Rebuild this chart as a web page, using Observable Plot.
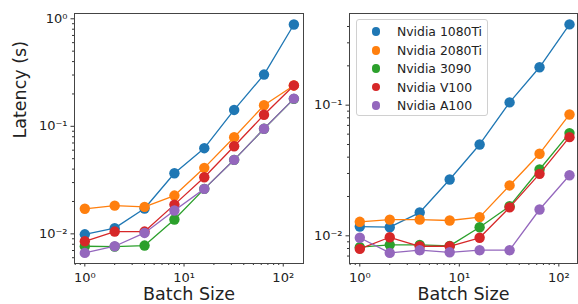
<!DOCTYPE html>
<html>
<head>
<meta charset="utf-8">
<script src="https://cdn.jsdelivr.net/npm/d3@7"></script>
<script src="https://cdn.jsdelivr.net/npm/@observablehq/plot@0.6"></script>
<style>
  html, body { margin: 0; padding: 0; background: #fff; }
  #wrap { position: relative; width: 578px; height: 304px; overflow: hidden; font-family: "DejaVu Sans", sans-serif; }
  #left, #right { position: absolute; top: 0; }
  #left { left: 0; }
  #right { left: 305px; }
  #legend { position: absolute; left: 356px; top: 19px; width: 132px; height: 97px;
    border: 1px solid #d0d0d0; border-radius: 3px; background: rgba(255,255,255,0.85); box-sizing: border-box; }
  .row { position: absolute; left: 0; height: 16px; display: flex; align-items: center; font-size: 12.4px; color: #222; white-space: nowrap; font-family: "DejaVu Sans", sans-serif; }
  .sw { width: 8.5px; height: 8.5px; border-radius: 50%; margin-left: 14.5px; margin-right: 17px; }
</style>
</head>
<body>
<div id="wrap">
  <div id="left"></div>
  <div id="right"></div>
  <div id="legend"></div>
</div>
<script>
const batchSizes = [1, 2, 4, 8, 16, 32, 64, 128];
const gpuNames = ["Nvidia 1080Ti", "Nvidia 2080Ti", "Nvidia 3090", "Nvidia V100", "Nvidia A100"];
const gpuColors = ["#1f77b4", "#ff7f0e", "#2ca02c", "#d62728", "#9467bd"];

// Left panel latency (s)
const left1080Ti = [0.0099, 0.0113, 0.0172, 0.0366, 0.0626, 0.142, 0.303, 0.885];
const left2080Ti = [0.0171, 0.0183, 0.0178, 0.0227, 0.0411, 0.0792, 0.157, 0.240];
const left3090   = [0.00767, 0.0076, 0.00778, 0.0136, 0.0262, 0.0488, 0.0948, 0.180];
const leftV100   = [0.00853, 0.0105, 0.0105, 0.0187, 0.0336, 0.0653, 0.128, 0.240];
const leftA100   = [0.00665, 0.00767, 0.0102, 0.0165, 0.0262, 0.0488, 0.095, 0.181];

// Right panel latency (s)
const right1080Ti = [0.01178, 0.01164, 0.01507, 0.0270, 0.050, 0.105, 0.195, 0.415];
const right2080Ti = [0.0128, 0.0133, 0.0133, 0.0131, 0.0139, 0.0243, 0.0425, 0.0849];
const right3090   = [0.00818, 0.00853, 0.00853, 0.00838, 0.01164, 0.01686, 0.0322, 0.0611];
const rightV100   = [0.00794, 0.00975, 0.00832, 0.00832, 0.00966, 0.0165, 0.0298, 0.0569];
const rightA100   = [0.00966, 0.00741, 0.00776, 0.00748, 0.00776, 0.00776, 0.0159, 0.0291];

// Axis ticks
const xMajorTicks = [1, 10, 100];
const xMinorTicks = [0.8, 0.9, 2, 3, 4, 5, 6, 7, 8, 9, 20, 30, 40, 50, 60, 70, 80, 90];
const leftYMajorTicks = [0.01, 0.1, 1];
const leftYMinorTicks = [0.006, 0.007, 0.008, 0.009, 0.02, 0.03, 0.04, 0.05, 0.06, 0.07, 0.08, 0.09, 0.2, 0.3, 0.4, 0.5, 0.6, 0.7, 0.8, 0.9];
const rightYMajorTicks = [0.01, 0.1];
const rightYMinorTicks = [0.007, 0.008, 0.009, 0.02, 0.03, 0.04, 0.05, 0.06, 0.07, 0.08, 0.09, 0.2, 0.3, 0.4];

const xLabel = "Batch Size";
const yLabel = "Latency (s)";

const sup = {"-": "\u207B", "0": "\u2070", "1": "\u00B9", "2": "\u00B2", "3": "\u00B3"};
const pow10 = d => "10" + String(Math.round(Math.log10(d))).split("").map(c => sup[c]).join("");

function toRows(seriesList) {
  return gpuNames.flatMap((gpu, i) => batchSizes.map((b, j) => ({gpu, batch: b, latency: seriesList[i][j]})));
}

function panel({data, width, marginLeft, marginRight, xDomain, yDomain, yMajor, yMinor, showYLabel}) {
  const marks = [];
  gpuNames.forEach(g => {
    const sub = data.filter(d => d.gpu === g);
    marks.push(Plot.line(sub, {x: "batch", y: "latency", stroke: "gpu", strokeWidth: 1.3}));
    marks.push(Plot.dot(sub, {x: "batch", y: "latency", fill: "gpu", r: 5.2, stroke: "none"}));
  });
  marks.push(Plot.axisX({ticks: xMinorTicks, tickSize: 2, tickFormat: () => "", label: null, stroke: "#333"}));
  marks.push(Plot.axisX({ticks: xMajorTicks, tickSize: 3.5, tickPadding: 5.5, tickFormat: pow10, label: null, stroke: "#333", fontSize: 13}));
  marks.push(Plot.axisY({ticks: yMinor, tickSize: 2, tickFormat: () => "", label: null, stroke: "#333"}));
  marks.push(Plot.axisY({ticks: yMajor, tickSize: 3.5, tickPadding: 3.5, tickFormat: pow10, label: null, stroke: "#333", fontSize: 13}));
  marks.push(Plot.frame({stroke: "#444", strokeWidth: 1}));
  marks.push(Plot.text([xLabel], {frameAnchor: "bottom", dy: 31, lineAnchor: "middle", fontSize: 17.5, fill: "#222"}));
  if (showYLabel) {
    marks.push(Plot.text([yLabel], {frameAnchor: "left", dx: -54, rotate: -90, lineAnchor: "middle", fontSize: 17.5, fill: "#222"}));
  }
  return Plot.plot({
    width, height: 304,
    marginLeft, marginRight, marginTop: 13, marginBottom: 41,
    style: {fontFamily: "DejaVu Sans", fontSize: "13px", color: "#222", background: "transparent", overflow: "visible"},
    x: {type: "log", domain: xDomain, label: null},
    y: {type: "log", domain: yDomain, label: null},
    color: {domain: gpuNames, range: gpuColors},
    marks
  });
}

document.getElementById("left").append(panel({
  data: toRows([left1080Ti, left2080Ti, left3090, leftV100, leftA100]),
  width: 310, marginLeft: 74, marginRight: 7,
  xDomain: [0.787, 160], yDomain: [0.0053, 1.12],
  yMajor: leftYMajorTicks, yMinor: leftYMinorTicks, showYLabel: true
}));

document.getElementById("right").append(panel({
  data: toRows([right1080Ti, right2080Ti, right3090, rightV100, rightA100]),
  width: 273, marginLeft: 44, marginRight: 1,
  xDomain: [0.788, 154], yDomain: [0.00614, 0.503],
  yMajor: rightYMajorTicks, yMinor: rightYMinorTicks, showYLabel: false
}));

const legend = document.getElementById("legend");
const rowTops = [3.7, 22.3, 40.3, 59, 77.3];
gpuNames.forEach((g, i) => {
  const row = document.createElement("div");
  row.className = "row";
  row.style.top = (rowTops[i]) + "px";
  const sw = document.createElement("span");
  sw.className = "sw";
  sw.style.background = gpuColors[i];
  const t = document.createElement("span");
  t.textContent = g;
  row.append(sw, t);
  legend.append(row);
});
</script>
</body>
</html>
